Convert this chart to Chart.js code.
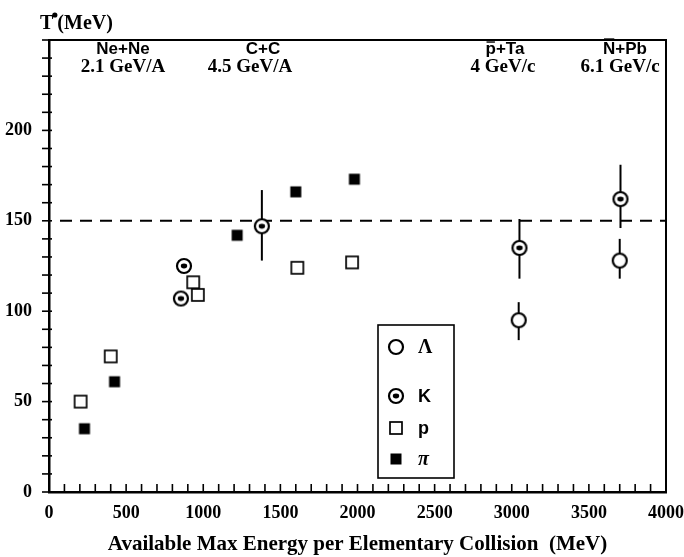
<!DOCTYPE html>
<html><head><meta charset="utf-8">
<script src="https://cdn.jsdelivr.net/npm/chart.js@4.4.0/dist/chart.umd.min.js"></script>
<style>html,body{margin:0;padding:0;background:#fff;} canvas{display:block;}</style>
</head><body>
<canvas id="c" width="684" height="557"></canvas>
<script>
// ---- data ----
const lambdaX  = [3045, 3700];
const lambdaY  = [95, 128];
const lambdaLo = [84, 118];
const lambdaHi = [105, 140];

const kaonX  = [855, 875, 1380, 3050, 3705];
const kaonY  = [107, 125, 147, 135, 162];
const kaonLo = [null, null, 128, 118, 146];
const kaonHi = [null, null, 167, 151, 181];

const protonX = [205, 400, 935, 965, 1610, 1965];
const protonY = [50, 75, 116, 109, 124, 127];

const pionX = [230, 425, 1220, 1600, 1980];
const pionY = [35, 61, 142, 166, 173];

const refLevel = 150;
const xTickLabels = [0, 500, 1000, 1500, 2000, 2500, 3000, 3500, 4000];
const yTickLabels = [0, 50, 100, 150, 200];

// reaction labels; the first letter of the last two carries an anti-particle bar
const annotTop    = ['Ne+Ne', 'C+C', 'p+Ta', 'N+Pb'];
const annotBar    = [0, 0, 7, 10];
const annotBottom = ['2.1 GeV/A', '4.5 GeV/A', '4 GeV/c', '6.1 GeV/c'];
const annotTopX    = [480, 1387, 2956, 3734];
const annotBottomX = [480, 1303, 2943, 3702];

const legendLabels = ['\u039B', 'K', 'p', '\u03C0'];

// ---- marker images ----
function sym(kind){
  const c = document.createElement('canvas'); c.width = 20; c.height = 20;
  const g = c.getContext('2d');
  g.strokeStyle = '#000'; g.fillStyle = '#fff';
  if (kind === 'lambda' || kind === 'kaon') {
    g.lineWidth = 2.2; g.beginPath(); g.arc(10, 10, 7, 0, 2*Math.PI); g.fill(); g.stroke();
    if (kind === 'kaon') { g.fillStyle = '#000'; g.beginPath(); g.ellipse(10, 10, 3.2, 2.4, 0, 0, 2*Math.PI); g.fill(); }
  } else if (kind === 'proton') {
    g.lineWidth = 1.7; g.fillRect(4, 4, 12, 12); g.strokeRect(4, 4, 12, 12);
  } else {
    g.fillStyle = '#000'; g.fillRect(4.5, 4.5, 11, 11);
  }
  return c;
}
const imgs = [sym('lambda'), sym('kaon'), sym('proton'), sym('pion')];

function pts(xs, ys){ return xs.map((x, i) => ({x: x, y: ys[i]})); }

const SERIF = '"Liberation Serif", "Times New Roman", serif';
const SANS = '"Liberation Sans", Arial, sans-serif';

const deco = {
  id: 'deco',
  beforeDatasetsDraw(chart){
    const {ctx, chartArea: a, scales: {x, y}} = chart;
    ctx.save();
    ctx.strokeStyle = '#000';
    ctx.lineWidth = 2; ctx.setLineDash([12, 8]);
    const yy = y.getPixelForValue(refLevel);
    ctx.beginPath(); ctx.moveTo(a.left + 11, yy); ctx.lineTo(a.right, yy); ctx.stroke();
    ctx.setLineDash([]);
    ctx.lineWidth = 2;
    const bars = (xs, lo, hi) => xs.forEach((v, i) => {
      if (lo[i] == null) return;
      const px = x.getPixelForValue(v);
      ctx.beginPath(); ctx.moveTo(px, y.getPixelForValue(lo[i])); ctx.lineTo(px, y.getPixelForValue(hi[i])); ctx.stroke();
    });
    bars(lambdaX, lambdaLo, lambdaHi);
    bars(kaonX, kaonLo, kaonHi);
    ctx.restore();
  },
  afterDraw(chart){
    const {ctx, chartArea: a, scales: {x, y}} = chart;
    ctx.save();
    ctx.strokeStyle = '#000'; ctx.fillStyle = '#000';
    ctx.lineWidth = 2;
    ctx.beginPath(); ctx.moveTo(a.left, a.top); ctx.lineTo(a.right, a.top); ctx.lineTo(a.right, a.bottom); ctx.stroke();
    ctx.lineWidth = 1.6;
    y.ticks.forEach(t => {
      const py = y.getPixelForValue(t.value);
      ctx.beginPath(); ctx.moveTo(a.left - 7, py); ctx.lineTo(a.left + 3, py); ctx.stroke();
    });
    x.ticks.forEach(t => {
      const px = x.getPixelForValue(t.value);
      ctx.beginPath(); ctx.moveTo(px, a.bottom + 1); ctx.lineTo(px, a.bottom - 8); ctx.stroke();
    });
    // annotations
    ctx.textAlign = 'center'; ctx.textBaseline = 'middle';
    ctx.font = 'bold 17px ' + SANS;
    const topY = y.getPixelForValue(245);
    annotTop.forEach((s, i) => {
      const cx = x.getPixelForValue(annotTopX[i]);
      ctx.fillText(s, cx, topY);
      if (annotBar[i]) {
        const w = ctx.measureText(s).width, w0 = ctx.measureText(s[0]).width;
        const l = cx - w / 2;
        ctx.lineWidth = 1.4;
        ctx.beginPath(); ctx.moveTo(l + 1, topY - annotBar[i]); ctx.lineTo(l + w0 - 1, topY - annotBar[i]); ctx.stroke();
      }
    });
    ctx.font = 'bold 19px ' + SERIF;
    annotBottom.forEach((s, i) => ctx.fillText(s, x.getPixelForValue(annotBottomX[i]), y.getPixelForValue(235)));
    // y-axis title
    ctx.textAlign = 'left'; ctx.textBaseline = 'alphabetic';
    ctx.font = 'bold 20px ' + SERIF;
    const tx = 40, ty = 29;
    ctx.fillText('T', tx, ty);
    const wT = ctx.measureText('T').width;
    ctx.beginPath(); ctx.arc(tx + wT + 1.5, ty - 14, 2.6, 0, 2*Math.PI); ctx.fill();
    ctx.fillText('(MeV)', tx + wT + 4, ty);
    // legend
    const bx = 378, by = 325, bw = 76, bh = 153;
    ctx.lineWidth = 1.6; ctx.strokeRect(bx, by, bw, bh);
    const rows = [347, 396, 428, 459];
    rows.forEach((ry, i) => {
      const im = imgs[i];
      ctx.drawImage(im, 396 - im.width/2, ry - im.height/2);
      ctx.textBaseline = 'middle';
      if (i === 0) ctx.font = 'bold 20px ' + SERIF;
      else if (i === 3) ctx.font = 'italic bold 20px ' + SERIF;
      else ctx.font = 'bold 18px ' + SANS;
      ctx.fillText(legendLabels[i], 418, ry + 1);
    });
    ctx.restore();
  }
};

new Chart(document.getElementById('c'), {
  type: 'scatter',
  data: {
    datasets: [
      {label: '\u039B', data: pts(lambdaX, lambdaY), pointStyle: imgs[0], pointRadius: 8},
      {label: 'K', data: pts(kaonX, kaonY), pointStyle: imgs[1], pointRadius: 8},
      {label: 'p', data: pts(protonX, protonY), pointStyle: imgs[2], pointRadius: 8},
      {label: '\u03C0', data: pts(pionX, pionY), pointStyle: imgs[3], pointRadius: 8}
    ]
  },
  options: {
    responsive: false, animation: false,
    layout: {padding: {top: 40, right: 18, left: 0, bottom: 0}},
    plugins: {legend: {display: false}, tooltip: {enabled: false}},
    scales: {
      x: {
        type: 'linear', min: 0, max: 4000,
        afterFit: s => { s.height = 65; s.paddingLeft = 0; s.paddingRight = 0; },
        grid: {display: false},
        border: {display: true, color: '#000', width: 2.5},
        ticks: {stepSize: 100, autoSkip: false, maxRotation: 0, padding: 3, color: '#000',
          font: {family: SERIF, size: 18, weight: 'bold'},
          callback: v => xTickLabels.includes(v) ? String(v) : ''},
        title: {display: true, text: 'Available Max Energy per Elementary Collision  (MeV)', color: '#000',
          font: {family: SERIF, size: 21, weight: 'bold'}, padding: {top: 9, bottom: 0}}
      },
      y: {
        type: 'linear', min: 0, max: 250,
        afterFit: s => { s.width = 49; s.paddingTop = 0; s.paddingBottom = 0; },
        grid: {display: false},
        border: {display: true, color: '#000', width: 2.5},
        ticks: {stepSize: 10, autoSkip: false, padding: 9, color: '#000',
          font: {family: SERIF, size: 18, weight: 'bold'},
          callback: v => yTickLabels.includes(v) ? String(v) : ''}
      }
    }
  },
  plugins: [deco]
});
</script>
</body></html>
